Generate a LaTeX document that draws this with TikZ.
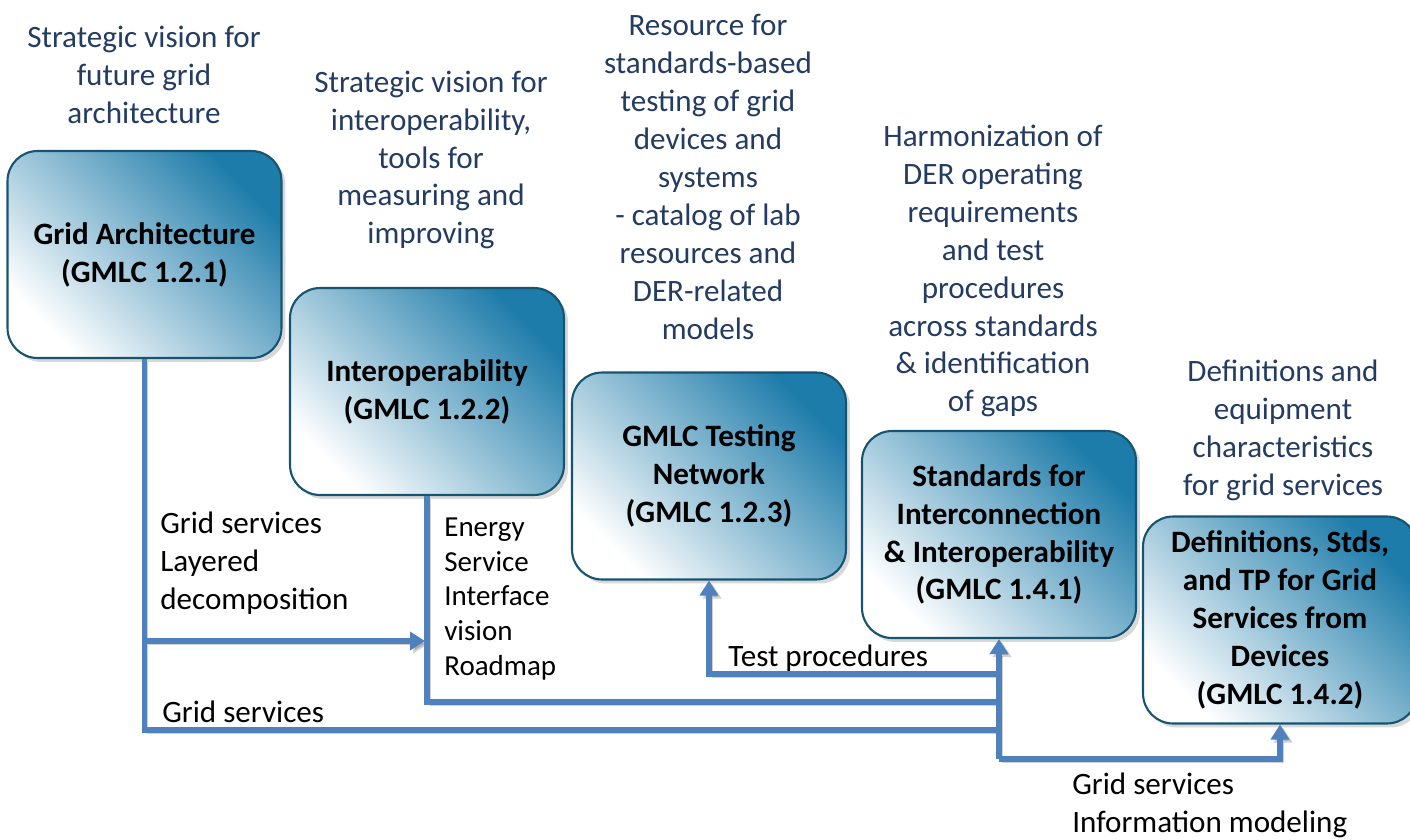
\documentclass[tikz,border=0pt]{standalone}
\usepackage{fontspec}
\setmainfont{Carlito}
\usetikzlibrary{arrows.meta,shadows}

\definecolor{boxtop}{RGB}{30,124,170}
\definecolor{boxline}{RGB}{22,84,112}
\definecolor{notecol}{RGB}{36,60,98}
\definecolor{flowcol}{RGB}{79,129,189}

\begin{document}
\begin{tikzpicture}[x=0.02cm,y=-0.02cm,
    gbox/.style={draw=boxline,line width=1.2pt,rounded corners=0.6cm,
        minimum width=5.48cm,minimum height=4.14cm,
        top color=boxtop,bottom color=white,middle color=boxtop!50!white,shading angle=-45,
        drop shadow={shadow xshift=0.08cm,shadow yshift=-0.08cm,opacity=0.3},
        align=center,font=\bfseries\fontsize{17.7}{21.6}\selectfont},
    note/.style={align=center,text=notecol,inner sep=0pt,
        font=\fontsize{17.7}{21.6}\selectfont},
    lbl/.style={align=left,anchor=west,inner sep=0pt,
        font=\fontsize{17.7}{21.6}\selectfont},
    flow/.style={draw=flowcol,line width=3.3pt,
        -{Triangle[length=0.3cm,width=0.36cm]},
        preaction={draw=black,opacity=0.18,
            transform canvas={shift={(0.06cm,-0.06cm)}}}}]
    \fill[white] (0,0) rectangle (1410,839);
    \useasboundingbox (0,0) rectangle (1410,839);

    % work packages
    \node[gbox] (ga) at (144.5,254.5) {Grid Architecture\\(GMLC 1.2.1)};
    \node[gbox] (io) at (427,391.5) {Interoperability\\(GMLC 1.2.2)};
    \node[gbox] (tn) at (709,476) {GMLC Testing\\Network\\(GMLC 1.2.3)};
    \node[gbox] (si) at (999,534.5) {Standards for\\Interconnection\\\& Interoperability\\(GMLC 1.4.1)};
    \node[gbox] (ds) at (1280,620) {Definitions, Stds,\\and TP for Grid\\Services from\\Devices\\(GMLC 1.4.2)};

    % what each one delivers
    \node[note] (n1) at (144,75) {Strategic vision for\\future grid\\architecture};
    \node[note] (n2) at (431,160) {Strategic vision for\\interoperability,\\tools for\\measuring and\\improving};
    \node[note] (n3) at (708,177) {Resource for\\standards-based\\testing of grid\\devices and\\systems\\- catalog of lab\\resources and\\DER-related\\models};
    \node[note] (n4) at (993,271) {Harmonization of\\DER operating\\requirements\\and test\\procedures\\across standards\\\& identification\\of gaps};
    \node[note] (n5) at (1283,430) {Definitions and\\equipment\\characteristics\\for grid services};

    \coordinate (gaTap) at (ga.south |- 0,641);
    \coordinate (ioTap) at (io.south |- 0,641);
    \coordinate (j3) at (si.south |- 0,674);
    \coordinate (j2) at (si.south |- 0,702);
    \coordinate (j1) at (si.south |- 0,730);
    \coordinate (hub) at (si.south |- 0,759);

    \draw[flow,-] (ga.south) |- (j1);
    \draw[flow] (gaTap) -- ([xshift=-0.04cm]ioTap);
    \draw[flow,-] (io.south) |- (j2);
    \draw[flow] (j3) -| (tn.south);
    \draw[flow] (hub) -- (si.south);
    \draw[flow] (hub) -| (ds.south);

    \node[lbl] (l1) at (160,563) {Grid services\\Layered\\decomposition};
    \node[lbl,font=\fontsize{16.5}{19.9}\selectfont] (l2) at (444,599) {Energy\\Service\\Interface\\vision\\Roadmap};
    \node[lbl] (l3) at (728,658) {Test procedures};
    \node[lbl] (l4) at (162,712) {Grid services};
    \node[lbl] (l5) at (1072,805) {Grid services\\Information modeling};
\end{tikzpicture}
\end{document}
